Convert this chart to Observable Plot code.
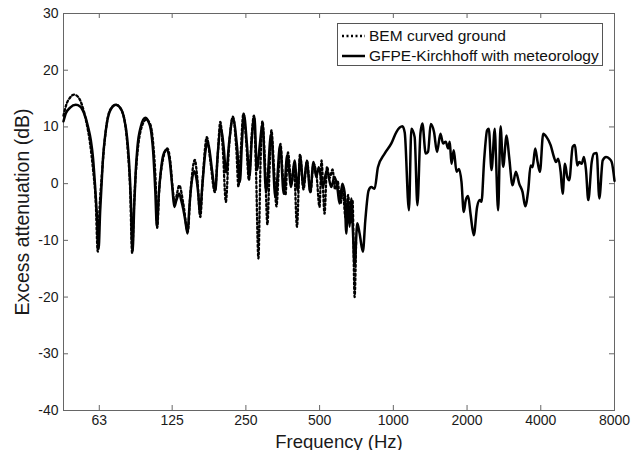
<!DOCTYPE html>
<html><head><meta charset="utf-8">
<script src="https://cdn.jsdelivr.net/npm/d3@7"></script>
<script src="https://cdn.jsdelivr.net/npm/@observablehq/plot@0.6"></script>
<style>
html,body{margin:0;padding:0;background:#fff;}
#wrap{position:relative;width:643px;height:450px;font-family:"Liberation Sans",Arial,sans-serif;}
#legend{position:absolute;left:337px;top:23px;width:264px;height:41px;border:1px solid #555;background:#fff;font-size:15.5px;color:#111;}
.row{position:absolute;left:4px;height:20px;display:flex;align-items:center;white-space:nowrap;}
.row svg{margin-right:4px;}
</style></head><body>
<div id="wrap"><div id="legend">
<div class="row" style="top:2px"><svg width="23" height="4"><line x1="0" y1="2" x2="23" y2="2" stroke="#000" stroke-width="2.3" stroke-dasharray="2,2.5"/></svg><span id="l1"></span></div>
<div class="row" style="top:22px"><svg width="23" height="4"><line x1="0" y1="2" x2="23" y2="2" stroke="#000" stroke-width="2.5"/></svg><span id="l2"></span></div>
</div></div>
<script>
const seriesNames = ["BEM curved ground", "GFPE-Kirchhoff with meteorology"];
const xTicks = [63, 125, 250, 500, 1000, 2000, 4000, 8000];
const yTicks = [-40, -30, -20, -10, 0, 10, 20, 30];
const xLabel = "Frequency (Hz)";
const yLabel = "Excess attenuation (dB)";

const gfpeFreq = [45, 46.0, 47.9, 50.5, 52.6, 54.6, 56.7, 58.2, 59.4, 60.6, 61.7, 62.6, 63.5, 64.4, 65.3, 66.6, 68.0, 70.4, 73.6, 76.7, 79.6, 81.9,
  83.3, 84.8, 86.1, 87.5, 88.7, 90.2, 93.0, 97.0, 99.8, 102.4, 104.6, 106.6, 108.3, 110.2, 112.5, 114.9, 118.8, 122.2, 125.1, 127.5,
  129.9, 133.6, 136.2, 138.8, 141.4, 144.5, 146.8, 149.2, 153.9, 156.9, 159.8, 162.4, 165.2, 168.0, 170.7, 174.5, 178.1, 181.2, 187.6, 191.7,
  197.9, 202.8, 207.5, 214.0, 221.2, 230.1, 236.3, 240.8, 245.4, 252.4, 258.4, 264.5, 270.9, 277.3, 285.2, 292.1, 302.4, 317.0, 330.1, 345.0,
  356.9, 368.6, 382.7, 394.8, 407.3, 416.5, 429.7, 443.3, 457.7, 472.1, 484.3, 496.3, 515.4, 535.2, 557.8, 575.4, 591.9, 603.1, 618.7, 632.3,
  642.5, 652.2, 662.7, 673.4, 683.7, 694.7, 712.6, 728.2, 751.2, 768.3, 792.6, 813.0, 838.7, 865.2, 921.6, 981.5, 1029, 1089, 1113, 1158,
  1185, 1222, 1254, 1290, 1314, 1356, 1386, 1421, 1466, 1508, 1557, 1596, 1637, 1673, 1700, 1727, 1765, 1811, 1855, 1898,
  1939, 1976, 2020, 2066, 2131, 2198, 2255, 2291, 2348, 2415, 2454, 2517, 2597, 2622, 2679, 2740, 2808, 2900, 2971, 3068,
  3165, 3265, 3371, 3455, 3554, 3635, 3704, 3796, 3883, 3967, 4093, 4226, 4388, 4527, 4613, 4714, 4821, 4913, 5021, 5131,
  5228, 5399, 5517, 5637, 5744, 5876, 6005, 6119, 6253, 6456, 6598, 6768, 6935, 7161, 7387, 7620, 7794, 8000];
const gfpeDb = [11.0, 12.4, 13.4, 13.9, 13.6, 12.4, 10.0, 7.6, 4.5, -0.6, -6, -11.5, -5, 0, 4.7, 8.5, 11.2, 13.2, 13.9, 13.4, 11.5, 8,
  4, -3, -12, -4, 2, 6.5, 10, 11.6, 11, 9.4, 5.5, -1, -7.6, -2, 2.4, 5, 6.0, 4, -0.5, -4.1,
  -3, -1.8, -3, -4.5, -6.5, -8.8, -4.5, -0.8, 2.2, 1, -1.8, -5.5, -1.5, 2.4, 5.5, 7.4, 5.5, 2.9, -1.2, 5,
  9.8, 6.5, 2.0, 7.6, 11.6, 6.5, 0.3, 7, 12.2, 7, 1.2, 8, 11.8, 2.4, 7, 10.6, -1.5, 8.8, -2.5, 6.8,
  -1.8, 5, -0.6, 4.1, -1.2, 4.7, -0.6, 4.1, -1.5, 3.8, 1.2, 2.9, -0.6, 2.4, -0.6, 1.2, -1, -3.5, 0, -1.5,
  -8.8, -3, -7.6, -2.6, -8.2, -14.5, -7, -8.8, -12, -6.5, -1.2, -0.6, -0.9, 2.9, 5.3, 7.1, 9.1, 10.1, 9, -4.7,
  9.7, 8.2, -3.8, 8.8, 10.6, 5.3, 5.6, 10.5, 9.1, 5.6, 8.8, 7.1, 7.4, 6.2, 7.4, 3.5, 5.9, 2.1, 2.6, 0.3,
  -5, -2.9, -2.2, -5.3, -9.1, -4.1, -2.9, -3.2, 4.1, 9.4, 9.7, 2.4, 9.7, 5.3, -4.7, 10.1, 3, 8.5, 4.7, -0.3,
  2.1, 0, -1.5, -4, -1.2, 3.2, 2.9, 6.2, 3.8, 2.1, 8.8, 8.2, 6.8, 4.7, 3.8, 4.4, 2.1, -1.8, 3.5, 1.2,
  0.6, 6.5, 6.8, 3.2, 3.8, 3.5, 4.7, 2.4, -2.9, 3.8, 5.3, 5.4, -2.6, 4.1, 4.7, 4.4, 3.8, 0.5];

const bemFreq = [45, 46.1, 47.9, 49.7, 51.6, 53.6, 55.7, 57.8, 59.4, 60.9, 62.1, 63.2, 64.4, 65.6, 67.8, 70.4, 73.6, 76.7, 80.0, 82.3,
  84.2, 85.8, 87.5, 89.6, 92.6, 97.9, 101.7, 104.6, 107.1, 108.6, 110.7, 113.3, 119.4, 122.8, 125.7, 128.1, 130.5, 133.6, 138.8, 144.8,
  148.2, 154.7, 158.3, 162.9, 166.7, 173.2, 179.0, 186.7, 191.2, 196.6, 201.3, 207.1, 213.0, 221.2, 228.6, 233.0, 238.5, 244.2, 251.2, 257.2,
  264.5, 269.6, 274.7, 281.3, 286.6, 292.1, 299.0, 306.1, 312.0, 317.9, 325.4, 333.2, 341.1, 346.0, 354.2, 362.7, 371.3, 383.8, 392.9, 404.2,
  415.8, 429.7, 444.1, 459.0, 472.1, 485.7, 499.6, 509.1, 523.7, 536.2, 548.9, 564.7, 578.1, 591.9, 608.9, 620.5, 638.2, 653.4, 669.0, 681.7,
  694.7, 704.6];
const bemDb = [12.0, 13.8, 15.2, 15.7, 15.3, 13.8, 11, 7, 2.5, -3, -12, -4, 1, 5.5, 11, 13.3, 13.9, 13.3, 11, 6,
  -1, -12.2, -3, 4, 9, 11.3, 10.5, 7, 0, -7.8, -1, 3, 6.2, 4, -1, -3.5, -2, -0.3, -3.5, -8.5,
  -2, 4.2, 1, -5.9, 1, 8.2, 4, -1.5, 4, 10.9, 6, -3.2, 6, 11.8, 6, -0.5, 6, 12.4, 7, 0.6,
  9, 12, 3, -13.2, 3, 11, 4, -7.2, 2, 9.4, 3, -4, 3, 7, 1, -2, 5.5, 0, 3, -7.6,
  5.2, -1, 4, -1.5, 3.5, 1.5, -4.1, 4.1, -5.3, 3, 1, 2.5, -1, 0.5, -3.5, -1, -6, -2, -7, -3,
  -20, -10];

const gfpe = gfpeFreq.map((f, i) => ({f, db: gfpeDb[i]}));
const bem = bemFreq.map((f, i) => ({f, db: bemDb[i]}));

document.getElementById("l1").textContent = seriesNames[0];
document.getElementById("l2").textContent = seriesNames[1];

const W = 643, H = 450, mT = 13, mB = 40, mL = 63, mR = 29;
const innerH = H - mT - mB, innerW = W - mL - mR, tick = 5;
const axisColor = "#666";
const textColor = "#1a1a1a";

const chart = Plot.plot({
  width: W, height: H,
  marginTop: mT, marginBottom: mB, marginLeft: mL, marginRight: mR,
  style: {fontFamily: "'Liberation Sans', Arial, sans-serif", fontSize: "14px", color: textColor, background: "#fff"},
  x: {type: "log", domain: [45, 8000], axis: null},
  y: {domain: [-40, 30], axis: null},
  marks: [
    Plot.ruleX(xTicks, {x: d => d, stroke: axisColor, insetTop: innerH - tick}),
    Plot.ruleX(xTicks, {x: d => d, stroke: axisColor, insetBottom: innerH - tick}),
    Plot.ruleY(yTicks, {y: d => d, stroke: axisColor, insetRight: innerW - tick}),
    Plot.ruleY(yTicks, {y: d => d, stroke: axisColor, insetLeft: innerW - tick}),
    Plot.frame({stroke: axisColor}),
    Plot.text(xTicks, {x: d => d, text: d => String(d), frameAnchor: "bottom", lineAnchor: "top", textAnchor: "middle", dy: 5, fontSize: 14, fill: textColor}),
    Plot.text(yTicks, {y: d => d, text: d => String(d), frameAnchor: "left", textAnchor: "end", lineAnchor: "middle", dx: -5, fontSize: 14, fill: textColor}),
    Plot.line(bem, {x: "f", y: "db", stroke: "#000", strokeWidth: 2.3, strokeDasharray: "2,2.5", curve: "monotone-x"}),
    Plot.line(gfpe, {x: "f", y: "db", stroke: "#000", strokeWidth: 2.5, curve: "monotone-x"}),
    Plot.text([xLabel], {text: d => d, frameAnchor: "bottom", textAnchor: "middle", lineAnchor: "bottom", dy: 37, fontSize: 18.5, fill: textColor}),
    Plot.text([yLabel], {text: d => d, frameAnchor: "left", textAnchor: "middle", lineAnchor: "middle", dx: -41, rotate: -90, fontSize: 19.5, fill: textColor})
  ]
});
document.getElementById("wrap").prepend(chart);
</script>
</body></html>
